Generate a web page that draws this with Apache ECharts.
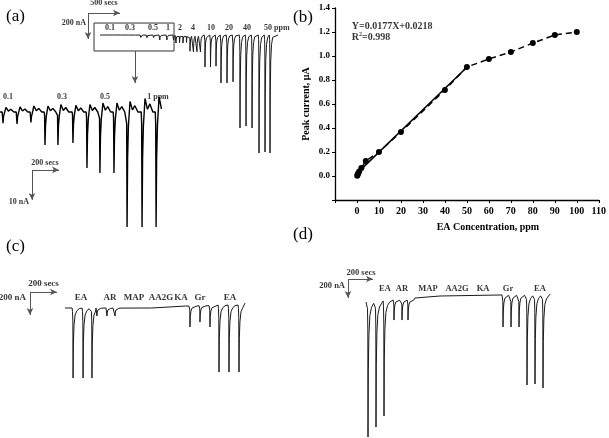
<!DOCTYPE html>
<html><head><meta charset="utf-8">
<script src="https://cdn.jsdelivr.net/npm/echarts@6/dist/echarts.min.js"></script>
<style>html,body{margin:0;padding:0;background:#fff}#c{width:609px;height:438px}</style>
</head><body><div id="c"></div><script>
// ---------- (b) calibration plot ----------
const bConc = [0.1, 0.3, 0.5, 1, 2, 4, 10, 20, 40, 50, 60, 70, 80, 90, 100];           // ppm
const bPeak = [0.003, 0.011, 0.02, 0.038, 0.067, 0.125, 0.2, 0.367, 0.717, 0.908, 0.975, 1.033, 1.108, 1.175, 1.2]; // uA
const bFitConc = [0, 50];
const bFitPeak = [0.0218, 0.9068];
const bEquation = ['Y=0.0177X+0.0218', 'R{s|2}=0.998'];

// ---------- (a) amperometric trace: times in s, currents in nA ----------
const aLowTimes = [203, 307, 410, 514, 610, 721, 825, 921, 1025, 1122, 1233, 1337];     // 0.1–1 ppm
const aLowPeaks = [-3.7, -4, -3.5, -11, -11, -10.3, -18.7, -20.3, -20.3, -38.3, -38.3, -38.3];
const aLowOvershoot = [1.5, 1.7, 2, 2, 2.5, 2.2, 2.5, 3, 3, 3.5, 4.5, 5];
const aHighTimes = [1375, 1430, 1484, 1539, 1594, 1648, 1703, 1758, 1828, 1914, 2000, 2078, 2172, 2266, 2375, 2469, 2563, 2672, 2766, 2844];
const aHighPeaks = [-62, -60, -62, -58, -125, -131, -128, -131, -246, -246, -240, -369, -369, -360, -715, -700, -715, -908, -900, -908];
const aMainKnots = [[188, 0], [2969, 0]];
const aInsetKnots = [[181, 0], [1381, 1]];
const aMainLabels = ['0.1', '0.3', '0.5', '1', '2', '4', '10', '20', '40', '50 ppm'];
const aMainLabelTimes = [344, 656, 1016, 1250, 1438, 1641, 1922, 2203, 2484, 2950];
const aInsetLabels = ['0.1', '0.3', '0.5', '1 ppm'];
const aInsetLabelTimes = [240, 640, 959, 1351];

// ---------- (c) interference trace ----------
const cTimes = [319, 393, 459, 496, 570, 630, 1185, 1259, 1333, 1400, 1474, 1548];
const cBases = [0, 0, 0, 0, 0, 0, 17, 20, 20, 26, 26, 26];
const cPeaks = [-609, -609, -609, -70, -70, -70, -165, -122, -165, -557, -557, -557];
const cKnots = [[259, 0], [900, 0], [1150, 17], [1593, 43]];
const cLabels = ['EA', 'AR', 'MAP', 'AA2G', 'KA', 'Gr', 'EA'];
const cLabelTimes = [378, 593, 770, 970, 1119, 1259, 1481];

// ---------- (d) interference trace ----------
const dTimes = [160, 224, 288, 368, 432, 480, 1240, 1304, 1368, 1432, 1496, 1560];
const dBases = [-21, -21, -10, 0, 0, 0, 53, 53, 53, 53, 53, 53];
const dPeaks = [-1442, -1337, -1221, -211, -211, -211, -284, -284, -284, -895, -884, -926];
const dKnots = [[144, -21], [536, 21], [736, 42], [1232, 53], [1616, 63]];
const dLabels = ['EA', 'AR', 'MAP', 'AA2G', 'KA', 'Gr', 'EA'];
const dLabelTimes = [296, 432, 640, 872, 1080, 1280, 1536];

// ---------- helpers ----------
const SERIF = 'Liberation Serif';
function buildTrace(knots, times, bases, peaks, shape, over) {
  const pts = knots.map(k => [k[0], k[1]]);
  const lastT = knots[knots.length - 1][0];
  times.forEach((t, i) => {
    const b = bases[i], p = peaks[i];
    const limit = i + 1 < times.length ? times[i + 1] - shape.pre : lastT;
    pts.push([t - shape.pre, b]);
    shape.lead.forEach(([dt, f]) => pts.push([t + dt, b + (p - b) * f]));
    pts.push([t, p]);
    shape.rec.forEach(([dt, f]) => { if (t + dt < limit) pts.push([t + dt, b + (p - b) * f]); });
    if (over) shape.over.forEach(([dt, f]) => { if (t + dt < limit) pts.push([t + dt, b + over[i] * f]); });
  });
  return pts.filter(p => p[0] <= lastT).sort((a, b) => a[0] - b[0]);
}
const zeros = n => new Array(n).fill(0);
function arrowLines(list) {
  return {
    silent: true, symbol: ['none', 'arrow'], symbolSize: [5, 7], animation: false,
    lineStyle: { color: '#555', width: 1, type: 'solid' }, label: { show: false },
    data: list.map(l => [{ coord: l[0] }, { coord: l[1] }])
  };
}
function textSeries(ax, items, size) {
  return {
    type: 'scatter', xAxisIndex: ax, yAxisIndex: ax, symbolSize: 0, silent: true,
    data: items.map(it => ({ value: [it[0], it[1]], name: it[2], label: { position: it[3] || 'inside', distance: 0 } })),
    label: { show: true, formatter: p => p.name, color: '#000', fontFamily: SERIF, fontWeight: 'bold', fontSize: size },
    z: 5
  };
}
function hiddenAxes(min, max) { return { type: 'value', min: min, max: max, show: false }; }

const mainShape = { pre: 12, lead: [[-6, 0.04], [-2.5, 0.18]], rec: [[4, 0.5], [11, 0.22], [24, 0.08], [42, 0.02]] };
const insetShape = { pre: 6, lead: [[-3, 0.1]], rec: [[4, 0.4], [10, 0.12]], over: [[22, 1], [40, 0.2], [58, 0.6], [80, 0]] };
const cdShape = { pre: 7, lead: [[-4, 0.05], [-1.5, 0.2]], rec: [[2.5, 0.5], [7, 0.25], [15, 0.1], [28, 0.04], [45, 0.01]] };

const allTimes = aLowTimes.concat(aHighTimes);
const allPeaks = aLowPeaks.concat(aHighPeaks);
const mainTrace = buildTrace(aMainKnots, allTimes, zeros(allTimes.length), allPeaks, mainShape);
const insetTrace = buildTrace(aInsetKnots, aLowTimes, zeros(aLowTimes.length), aLowPeaks, insetShape, aLowOvershoot);
const cTrace = buildTrace(cKnots, cTimes, cBases, cPeaks, cdShape);
const dTrace = buildTrace(dKnots, dTimes, dBases, dPeaks, cdShape);

const chart = echarts.init(document.getElementById('c'), null, { renderer: 'canvas' });
const traceLine = { color: '#1a1a1a', width: 1 };

chart.setOption({
  animation: false,
  backgroundColor: '#fff',
  title: [
    { text: '(a)', left: 6, top: 8 },
    { text: '(b)', left: 293, top: 9 },
    { text: '(c)', left: 6, top: 238 },
    { text: '(d)', left: 293, top: 226 }
  ].map(t => Object.assign(t, { padding: 0, textStyle: { fontFamily: SERIF, fontWeight: 'normal', fontSize: 17, color: '#000' } })),
  grid: [
    { left: 335, top: 8, width: 268, height: 192 },          // (b)
    { left: 60, top: 0, width: 240, height: 170 },           // (a) main
    { left: 0, top: 85, width: 180, height: 150 },           // (a) inset
    { left: 0, top: 240, width: 300, height: 150 },          // (c)
    { left: 300, top: 240, width: 309, height: 198 }         // (d)
  ],
  xAxis: [
    {
      type: 'value', gridIndex: 0, min: -10, max: 110, interval: 10,
      name: 'EA Concentration, ppm', nameLocation: 'middle', nameGap: 22,
      nameTextStyle: { fontFamily: SERIF, fontWeight: 'bold', fontSize: 10, color: '#000', padding: [0, 0, 0, 42] },
      axisLine: { onZero: false, lineStyle: { color: '#000', width: 1.3 } },
      axisTick: { show: true, length: 3, lineStyle: { color: '#000' } },
      splitLine: { show: false },
      axisLabel: { margin: 6, fontFamily: SERIF, fontWeight: 'bold', fontSize: 10, color: '#000', formatter: v => v < 0 ? '' : String(v) }
    },
    Object.assign(hiddenAxes(-437.5, 3312.5), { gridIndex: 1 }),
    Object.assign(hiddenAxes(180.78, 1514.1), { gridIndex: 2 }),
    Object.assign(hiddenAxes(-222.2, 2000), { gridIndex: 3 }),
    Object.assign(hiddenAxes(-384, 2088), { gridIndex: 4 })
  ],
  yAxis: [
    {
      type: 'value', gridIndex: 0, min: -0.2, max: 1.4, interval: 0.2,
      name: 'Peak current, μA', nameLocation: 'middle', nameGap: 24, nameRotate: 90,
      nameTextStyle: { fontFamily: SERIF, fontWeight: 'bold', fontSize: 10, color: '#000' },
      axisLine: { show: true, onZero: false, lineStyle: { color: '#000', width: 1.3 } },
      axisTick: { show: true, length: 3, lineStyle: { color: '#000' } },
      splitLine: { show: false },
      axisLabel: { margin: 5, fontFamily: SERIF, fontWeight: 'bold', fontSize: 9, color: '#000', formatter: v => v < -0.01 ? '' : v.toFixed(1) }
    },
    Object.assign(hiddenAxes(-1038.5, 269.2), { gridIndex: 1 }),
    Object.assign(hiddenAxes(-41, 9), { gridIndex: 2 }),
    Object.assign(hiddenAxes(-713, 591.3), { gridIndex: 3 }),
    Object.assign(hiddenAxes(-1452.6, 631.6), { gridIndex: 4 })
  ],
  series: [
    // (b)
    {
      type: 'line', xAxisIndex: 0, yAxisIndex: 0, data: bConc.map((c, i) => [c, bPeak[i]]),
      symbol: 'circle', symbolSize: 6, itemStyle: { color: '#000' },
      lineStyle: { color: '#000', width: 1.5, type: [6, 4] }, z: 3
    },
    {
      type: 'line', xAxisIndex: 0, yAxisIndex: 0, data: bFitConc.map((c, i) => [c, bFitPeak[i]]),
      showSymbol: false, lineStyle: { color: '#000', width: 1.5 }, z: 2
    },
    {
      type: 'scatter', xAxisIndex: 0, yAxisIndex: 0, symbolSize: 0, silent: true,
      data: [{ value: [-2.4, 1.25], name: bEquation[0] }, { value: [-2.4, 1.158], name: bEquation[1] }],
      label: {
        show: true, position: 'right', distance: 0, formatter: p => p.name, color: '#000',
        fontFamily: SERIF, fontWeight: 'bold', fontSize: 10,
        rich: { s: { fontFamily: SERIF, fontWeight: 'bold', fontSize: 6, verticalAlign: 'top', padding: [0, 0, 5, 0] } }
      }
    },
    // (a) main trace
    {
      type: 'line', xAxisIndex: 1, yAxisIndex: 1, data: mainTrace, showSymbol: false, lineStyle: traceLine,
      markLine: arrowLines([[[0, 169], [500, 169]], [[0, 169], [0, -31]], [[734, -123], [734, -369]]]),
      markArea: {
        silent: true, itemStyle: { color: 'rgba(0,0,0,0)', borderColor: '#333', borderWidth: 1 },
        data: [[{ coord: [94, 92] }, { coord: [1344, -123] }]]
      }
    },
    textSeries(1, aMainLabels.map((s, i) => [aMainLabelTimes[i], 54, s]).concat([[250, 246, '500 secs'], [-31, 92, '200 nA', 'left']]), 8),
    // (a) inset
    {
      type: 'line', xAxisIndex: 2, yAxisIndex: 2, data: insetTrace, showSymbol: false,
      lineStyle: { color: '#000', width: 1.4 },
      markLine: arrowLines([[[418, -19.3], [618, -19.3]], [[418, -19.3], [418, -29.3]]])
    },
    textSeries(2, aInsetLabels.map((s, i) => [aInsetLabelTimes[i], 5, s]).concat([[514, -17, '200 secs'], [396, -30, '10 nA', 'left']]), 8),
    // (c)
    {
      type: 'line', xAxisIndex: 3, yAxisIndex: 3, data: cTrace, showSymbol: false, lineStyle: traceLine,
      markLine: arrowLines([[[0, 139], [200, 139]], [[0, 139], [0, -61]]])
    },
    textSeries(3, cLabels.map((s, i) => [cLabelTimes[i], 87, s]).concat([[100, 209, '200 secs'], [-30, 87, '200 nA', 'left']]), 9),
    // (d)
    {
      type: 'line', xAxisIndex: 4, yAxisIndex: 4, data: dTrace, showSymbol: false, lineStyle: traceLine,
      markLine: arrowLines([[[0, 221], [200, 221]], [[0, 221], [0, 21]]])
    },
    textSeries(4, dLabels.map((s, i) => [dLabelTimes[i], 116, s]).concat([[104, 284, '200 secs'], [-24, 147, '200 nA', 'left']]), 8.5)
  ]
});
</script></body></html>
